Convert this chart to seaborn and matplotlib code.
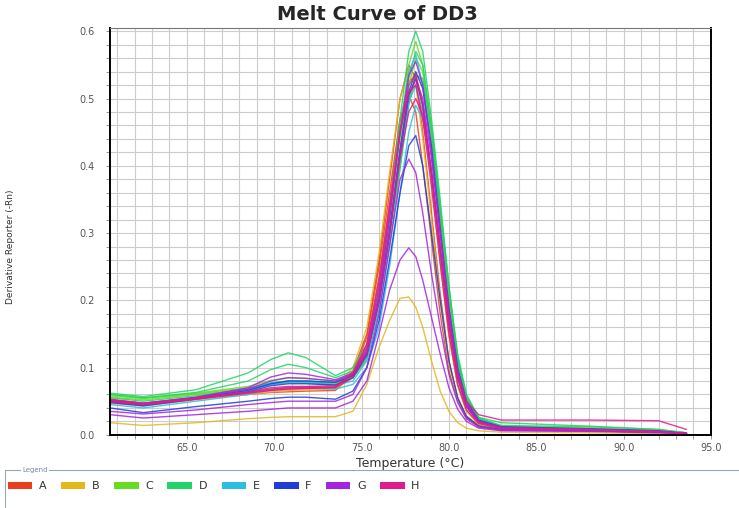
import pandas as pd
import numpy as np
import matplotlib
matplotlib.use("Agg")
import matplotlib.pyplot as plt
from matplotlib.patches import Patch, Rectangle
import seaborn as sns

# temperature points shared by every well
temps = [60.6, 62.5, 65.5, 68.5, 69.8, 70.8, 71.8, 73.5, 74.5, 75.3, 76.0, 76.6, 77.2, 77.7,
         78.1, 78.5, 79.0, 79.5, 80.0, 80.5, 81.0, 81.7, 83.0, 88.0, 92.0, 93.6]

row_names = ['A', 'B', 'C', 'D', 'E', 'F', 'G', 'H']
row_colors = ['#e8401e', '#e2b81c', '#66dd22', '#22d468', '#2cbde0', '#1f3cd8', '#a424e0', '#e01a8c']

A1 = [0.052, 0.047, 0.055, 0.062, 0.066, 0.068, 0.069, 0.070, 0.095, 0.15, 0.26, 0.38, 0.50, 0.55, 0.53, 0.45, 0.33, 0.21, 0.11, 0.055, 0.028, 0.014, 0.008, 0.006, 0.004, 0.002]
A2 = [0.050, 0.046, 0.054, 0.060, 0.063, 0.064, 0.065, 0.066, 0.090, 0.145, 0.25, 0.36, 0.47, 0.505, 0.48, 0.40, 0.29, 0.18, 0.095, 0.05, 0.025, 0.012, 0.007, 0.006, 0.004, 0.002]
A3 = [0.048, 0.044, 0.053, 0.062, 0.067, 0.070, 0.071, 0.072, 0.088, 0.135, 0.235, 0.345, 0.465, 0.525, 0.535, 0.49, 0.38, 0.26, 0.15, 0.075, 0.036, 0.016, 0.009, 0.007, 0.005, 0.002]
B1 = [0.018, 0.014, 0.018, 0.024, 0.026, 0.027, 0.027, 0.027, 0.035, 0.075, 0.13, 0.17, 0.203, 0.205, 0.19, 0.16, 0.11, 0.065, 0.035, 0.018, 0.010, 0.006, 0.004, 0.003, 0.002, 0.001]
B2 = [0.050, 0.045, 0.054, 0.063, 0.068, 0.070, 0.071, 0.072, 0.100, 0.16, 0.27, 0.39, 0.50, 0.545, 0.52, 0.44, 0.32, 0.20, 0.105, 0.052, 0.026, 0.013, 0.008, 0.006, 0.004, 0.002]
B3 = [0.047, 0.043, 0.052, 0.060, 0.064, 0.066, 0.067, 0.068, 0.085, 0.13, 0.225, 0.33, 0.445, 0.505, 0.52, 0.48, 0.37, 0.255, 0.145, 0.072, 0.035, 0.016, 0.009, 0.007, 0.005, 0.002]
C1 = [0.060, 0.055, 0.062, 0.072, 0.081, 0.085, 0.084, 0.080, 0.090, 0.125, 0.21, 0.32, 0.45, 0.55, 0.585, 0.55, 0.45, 0.33, 0.20, 0.10, 0.050, 0.022, 0.012, 0.009, 0.006, 0.003]
C2 = [0.058, 0.054, 0.061, 0.070, 0.077, 0.080, 0.080, 0.078, 0.088, 0.12, 0.20, 0.30, 0.42, 0.52, 0.56, 0.54, 0.45, 0.33, 0.21, 0.11, 0.055, 0.024, 0.013, 0.010, 0.006, 0.003]
C3 = [0.056, 0.052, 0.060, 0.068, 0.075, 0.078, 0.078, 0.076, 0.085, 0.115, 0.19, 0.285, 0.40, 0.495, 0.535, 0.525, 0.44, 0.325, 0.21, 0.11, 0.055, 0.025, 0.013, 0.010, 0.006, 0.003]
D1 = [0.062, 0.057, 0.067, 0.092, 0.112, 0.122, 0.115, 0.088, 0.100, 0.135, 0.22, 0.33, 0.47, 0.57, 0.60, 0.57, 0.47, 0.35, 0.22, 0.11, 0.055, 0.024, 0.014, 0.012, 0.008, 0.003]
D2 = [0.060, 0.055, 0.063, 0.080, 0.097, 0.105, 0.100, 0.085, 0.095, 0.125, 0.205, 0.31, 0.43, 0.53, 0.57, 0.55, 0.46, 0.34, 0.22, 0.115, 0.058, 0.026, 0.018, 0.013, 0.008, 0.003]
D3 = [0.055, 0.050, 0.058, 0.068, 0.077, 0.080, 0.080, 0.078, 0.085, 0.112, 0.185, 0.28, 0.395, 0.49, 0.535, 0.53, 0.45, 0.335, 0.22, 0.12, 0.060, 0.026, 0.012, 0.009, 0.006, 0.003]
E1 = [0.052, 0.047, 0.056, 0.068, 0.077, 0.080, 0.079, 0.075, 0.085, 0.125, 0.21, 0.32, 0.45, 0.54, 0.565, 0.52, 0.42, 0.30, 0.18, 0.09, 0.045, 0.020, 0.011, 0.008, 0.005, 0.002]
E2 = [0.050, 0.046, 0.055, 0.066, 0.075, 0.078, 0.077, 0.074, 0.080, 0.11, 0.19, 0.29, 0.41, 0.495, 0.52, 0.48, 0.385, 0.275, 0.165, 0.085, 0.042, 0.018, 0.010, 0.008, 0.005, 0.002]
E3 = [0.045, 0.040, 0.050, 0.060, 0.067, 0.070, 0.070, 0.068, 0.075, 0.10, 0.16, 0.25, 0.36, 0.45, 0.49, 0.47, 0.39, 0.28, 0.17, 0.09, 0.045, 0.020, 0.011, 0.008, 0.005, 0.002]
F1 = [0.040, 0.033, 0.042, 0.050, 0.054, 0.056, 0.056, 0.053, 0.065, 0.10, 0.17, 0.26, 0.36, 0.43, 0.445, 0.40, 0.30, 0.20, 0.11, 0.055, 0.027, 0.013, 0.008, 0.006, 0.004, 0.002]
F2 = [0.050, 0.045, 0.055, 0.066, 0.076, 0.080, 0.080, 0.078, 0.088, 0.12, 0.20, 0.30, 0.42, 0.51, 0.54, 0.515, 0.43, 0.31, 0.19, 0.10, 0.050, 0.022, 0.012, 0.009, 0.006, 0.002]
F3 = [0.048, 0.043, 0.053, 0.064, 0.073, 0.076, 0.076, 0.074, 0.085, 0.118, 0.20, 0.30, 0.42, 0.505, 0.53, 0.49, 0.39, 0.275, 0.165, 0.085, 0.042, 0.019, 0.011, 0.008, 0.005, 0.002]
G1 = [0.030, 0.025, 0.030, 0.035, 0.038, 0.040, 0.040, 0.040, 0.050, 0.08, 0.15, 0.215, 0.26, 0.278, 0.265, 0.23, 0.175, 0.12, 0.07, 0.038, 0.020, 0.010, 0.006, 0.005, 0.003, 0.002]
G2 = [0.035, 0.031, 0.037, 0.045, 0.048, 0.050, 0.050, 0.050, 0.060, 0.10, 0.18, 0.28, 0.38, 0.41, 0.39, 0.33, 0.24, 0.16, 0.09, 0.048, 0.024, 0.012, 0.007, 0.006, 0.004, 0.002]
G3 = [0.050, 0.045, 0.055, 0.068, 0.080, 0.085, 0.084, 0.080, 0.090, 0.125, 0.21, 0.32, 0.45, 0.535, 0.555, 0.52, 0.42, 0.30, 0.18, 0.09, 0.045, 0.020, 0.011, 0.008, 0.005, 0.002]
G4 = [0.052, 0.047, 0.056, 0.070, 0.086, 0.092, 0.090, 0.082, 0.092, 0.122, 0.20, 0.30, 0.42, 0.505, 0.53, 0.50, 0.41, 0.30, 0.185, 0.095, 0.048, 0.021, 0.011, 0.008, 0.005, 0.002]
H1 = [0.053, 0.047, 0.055, 0.064, 0.070, 0.072, 0.072, 0.073, 0.090, 0.13, 0.22, 0.33, 0.45, 0.52, 0.535, 0.49, 0.39, 0.275, 0.165, 0.085, 0.042, 0.019, 0.010, 0.008, 0.005, 0.002]
H2 = [0.051, 0.046, 0.054, 0.063, 0.068, 0.070, 0.070, 0.071, 0.092, 0.135, 0.23, 0.34, 0.45, 0.51, 0.52, 0.47, 0.37, 0.255, 0.15, 0.075, 0.037, 0.017, 0.009, 0.007, 0.005, 0.002]
H3 = [0.049, 0.045, 0.053, 0.062, 0.066, 0.068, 0.069, 0.070, 0.085, 0.12, 0.20, 0.30, 0.41, 0.48, 0.50, 0.475, 0.39, 0.28, 0.17, 0.09, 0.050, 0.030, 0.022, 0.022, 0.021, 0.008]

wells = {
    'A1': A1, 'A2': A2, 'A3': A3, 'B1': B1, 'B2': B2, 'B3': B3,
    'C1': C1, 'C2': C2, 'C3': C3, 'D1': D1, 'D2': D2, 'D3': D3,
    'E1': E1, 'E2': E2, 'E3': E3, 'F1': F1, 'F2': F2, 'F3': F3,
    'G1': G1, 'G2': G2, 'G3': G3, 'G4': G4, 'H1': H1, 'H2': H2, 'H3': H3,
}

rows = []
for name, vals in wells.items():
    for t, v in zip(temps, vals):
        rows.append((name, name[0], t, v))
df = pd.DataFrame(rows, columns=['well', 'row', 'temp', 'value'])

row_col = dict(zip(row_names, row_colors))
palette = {w: row_col[w[0]] for w in wells}

sns.set_style("white")
plt.rcParams['font.family'] = ['DejaVu Sans']

fig = plt.figure(figsize=(7.39, 5.08), dpi=100)
ax = fig.add_axes([0.149, 0.144, 0.813, 0.801])

sns.lineplot(data=df, x='temp', y='value', hue='well', palette=palette,
             estimator=None, legend=False, linewidth=1.0, alpha=0.85, ax=ax)

ax.set_xlim(60.6, 95)
ax.set_ylim(0, 0.605)
ax.set_xticks([65, 70, 75, 80, 85, 90, 95])
ax.set_xticklabels(['65.0', '70.0', '75.0', '80.0', '85.0', '90.0', '95.0'])
ax.set_xticks(np.arange(61, 95, 1), minor=True)
ax.set_yticks([0.0, 0.1, 0.2, 0.3, 0.4, 0.5, 0.6])
ax.set_yticklabels(['0.0', '0.1', '0.2', '0.3', '0.4', '0.5', '0.6'])
ax.set_yticks(np.arange(0, 0.6, 0.02), minor=True)
ax.grid(True, which='both', color='#cccccc', linewidth=0.8)
ax.set_axisbelow(True)
ax.tick_params(axis='both', which='both', labelsize=7, labelcolor='#555555',
               color='#888888', length=3, width=0.6, direction='out', bottom=True, left=True)
ax.tick_params(axis='x', pad=3)
ax.tick_params(axis='y', pad=8)

for s in ['left', 'bottom', 'right']:
    ax.spines[s].set_color('black')
    ax.spines[s].set_linewidth(1.4)
ax.spines['top'].set_color('#777777')
ax.spines['top'].set_linewidth(0.8)

ax.set_xlabel('Temperature (°C)', fontsize=9, color='#333333', labelpad=3)
ax.set_ylabel('')
fig.text(0.014, 0.515, 'Derivative Reporter (-Rn)', rotation=90, fontsize=6.5,
         color='#333333', ha='center', va='center')
fig.suptitle('Melt Curve of DD3', x=0.51, y=0.99, fontsize=14, fontweight='bold')

# legend panel at the bottom
fig.patches.append(Rectangle((0.007, -0.02), 1.0, 0.095, transform=fig.transFigure,
                             facecolor='white', edgecolor='#9aa6b2', linewidth=0.8))
fig.text(0.03, 0.075, 'Legend', fontsize=5, color='#7a8aa0', va='center',
         bbox=dict(facecolor='white', edgecolor='none', pad=1))
handles = [Patch(facecolor=c, edgecolor='none', label=n) for n, c in zip(row_names, row_colors)]
fig.legend(handles=handles, loc='upper left', bbox_to_anchor=(-0.003, 0.072), ncol=8,
           frameon=False, fontsize=8, handlelength=2.2, handleheight=0.7,
           columnspacing=1.3, handletextpad=0.6, labelcolor='#333333')

fig.savefig('out.png', dpi=100)
